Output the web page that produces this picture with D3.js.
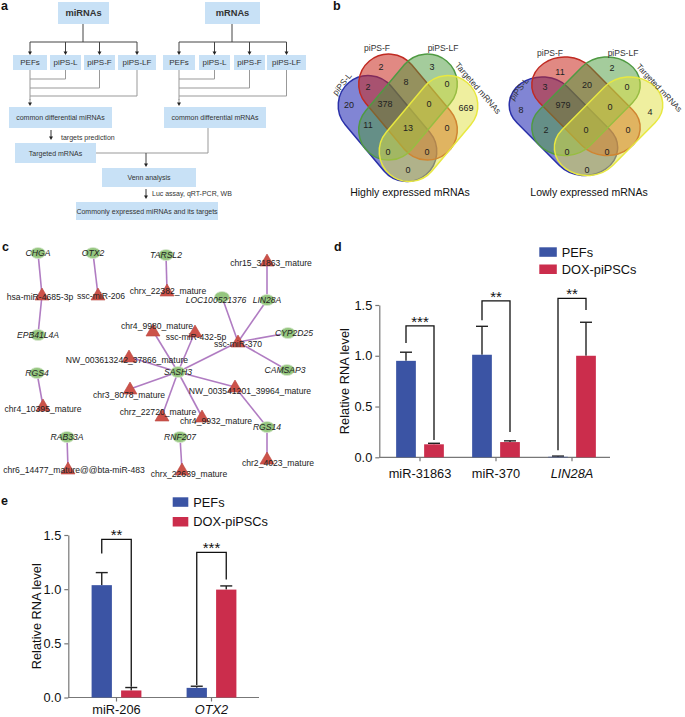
<!DOCTYPE html>
<html><head><meta charset="utf-8">
<script src="https://cdn.jsdelivr.net/npm/d3@7"></script>
<style>body{margin:0;background:#fff}svg{display:block}text{font-family:"Liberation Sans",Arial,sans-serif}</style>
</head><body><svg id="c" width="685" height="717"></svg>
<script>
// ================= DATA =================
// panel a
const topNodes = ["miRNAs", "mRNAs"];
const samples = ["PEFs", "piPS-L", "piPS-F", "piPS-LF"];
const stepLabels = ["common differential miRNAs", "common differential mRNAs", "Targeted mRNAs", "Venn analysis", "Commonly expressed miRNAs and its targets"];
const stepNotes = ["targets prediction", "Luc assay, qRT-PCR, WB"];
// panel b
const vennSets = ["piPS-L", "piPS-F", "piPS-LF", "Targeted mRNAs"];
const vennRegions = ["F","X","LF","FX","XT","L","LFX","FXT","T","LX","LFXT","FT","LXT","LFT","LT"];
const highCounts = [2, 3, 2, 8, 0, 20, 378, 0, 669, 11, 13, 0, 0, 0, 0];
const lowCounts  = [11, 2, 3, 20, 0, 8, 979, 0, 4, 2, 0, 0, 0, 0, 0];
const vennTitles = ["Highly expressed mRNAs", "Lowly expressed mRNAs"];
// panel c
const genes = ["CHGA","EPB41L4A","OTX2","TARSL2","LIN28A","LOC100521376","CYP2D25","CAMSAP3","SASH3","RGS14","RNF207","RGS4","RAB33A"];
const mirnas = ["hsa-miR-4685-3p","ssc-miR-206","chrx_22382_mature","chr15_31863_mature","ssc-miR-370","chr4_9980_mature","ssc-miR-432-5p","NW_003613242_37866_mature","chr3_8078_mature","chrz_22720_mature","chr4_9932_mature","NW_003541201_39964_mature","chr2_4023_mature","chrx_22639_mature","chr4_10395_mature","chr6_14477_mature@@bta-miR-483"];
const edges = [
  ["hsa-miR-4685-3p","CHGA"],["hsa-miR-4685-3p","EPB41L4A"],["ssc-miR-206","OTX2"],
  ["chrx_22382_mature","TARSL2"],["chr15_31863_mature","LIN28A"],["ssc-miR-370","LIN28A"],
  ["ssc-miR-370","LOC100521376"],["ssc-miR-370","CYP2D25"],["ssc-miR-370","CAMSAP3"],
  ["ssc-miR-370","SASH3"],["chr4_9980_mature","SASH3"],["ssc-miR-432-5p","SASH3"],
  ["NW_003613242_37866_mature","SASH3"],["chr3_8078_mature","SASH3"],["chrz_22720_mature","SASH3"],
  ["chr4_9932_mature","SASH3"],["NW_003541201_39964_mature","SASH3"],["NW_003541201_39964_mature","RGS14"],
  ["chr2_4023_mature","RGS14"],["chrx_22639_mature","RNF207"],["chr4_10395_mature","RGS4"],
  ["chr6_14477_mature@@bta-miR-483","RAB33A"]
];
// panels d, e
const seriesNames = ["PEFs", "DOX-piPSCs"];
const dGroups = ["miR-31863", "miR-370", "LIN28A"];
const dItalic = [false, false, true];
const dPEFs = [0.95, 1.01, 0.005];
const dPEFsErr = [0.085, 0.28, 0.007];
const dDOX = [0.128, 0.15, 1.00];
const dDOXErr = [0.01, 0.012, 0.33];
const dSig = ["***", "**", "**"];
const dBrackets = [[1.125, 1.295, 0.17], [1.35, 1.54, 0.25], [0.07, 1.565, 1.45]];
const eGroups = ["miR-206", "OTX2"];
const eItalic = [false, true];
const ePEFs = [1.037, 0.089];
const ePEFsErr = [0.116, 0.015];
const eDOX = [0.065, 0.996];
const eDOXErr = [0.027, 0.034];
const eSig = ["**", "***"];
const eBrackets = [[1.33, 1.46, 0.10], [0.115, 1.34, 1.09]];
const yTicks = [0, 0.5, 1.0, 1.5];

// ================= DRAW =================
const svg = d3.select("#c");

function panelLabel(t, x, y) {
  svg.append("text").attr("x", x).attr("y", y).attr("font-size", 12.5).attr("font-weight", "bold").attr("fill", "#111").text(t);
}
panelLabel("a", 1, 10); panelLabel("b", 333, 10); panelLabel("c", 2, 251); panelLabel("d", 334, 251); panelLabel("e", 1, 505);

// ---------- panel a ----------
const gA = svg.append("g");
const boxFill = "#c8e1f6";
function box(x, y, w, h, label, size, bold) {
  gA.append("rect").attr("x", x).attr("y", y).attr("width", w).attr("height", h).attr("fill", boxFill);
  gA.append("text").attr("x", x + w / 2).attr("y", y + h / 2).attr("text-anchor", "middle")
    .attr("dominant-baseline", "central").attr("font-size", size).attr("font-weight", bold ? "bold" : "normal")
    .attr("fill", "#333").text(label);
}
function line(x1, y1, x2, y2, col) {
  gA.append("line").attr("x1", x1).attr("y1", y1).attr("x2", x2).attr("y2", y2).attr("stroke", col).attr("stroke-width", 1);
}
function arrow(x, y1, y2, col) {
  line(x, y1, x, y2 - 2.5, col);
  gA.append("path").attr("d", `M${x - 2},${y2 - 3.5}L${x + 2},${y2 - 3.5}L${x},${y2}Z`).attr("fill", "#222");
}
const sideLayout = [
  { top: [58, 2, 51, 22], stem: 83, row: [[13, 34], [50, 31], [84, 31], [118, 38]], common: [9, 107, 103, 21] },
  { top: [205, 2, 55, 22], stem: 232, row: [[163, 32], [199, 31], [234, 31], [267, 39]], common: [164, 107, 102, 21] }
];
const joinY = [null, 79, 88, 96];
sideLayout.forEach((s, si) => {
  const centers = s.row.map(r => r[0] + r[1] / 2);
  line(s.stem, 24, s.stem, 42, "#444");
  line(centers[0], 42, centers[3], 42, "#444");
  centers.forEach(cx => arrow(cx, 42, 55, "#444"));
  s.row.forEach((r, i) => box(r[0], 55, r[1], 15, samples[i], 8, false));
  centers.forEach((cx, i) => { if (i > 0) { line(cx, 70, cx, joinY[i], "#999"); line(centers[0], joinY[i], cx, joinY[i], "#999"); } });
  line(centers[0], 70, centers[0], 100, "#999");
  arrow(centers[0], 99, 106, "#999");
  box(s.top[0], s.top[1], s.top[2], s.top[3], topNodes[si], 9.3, true);
  box(s.common[0], s.common[1], s.common[2], s.common[3], stepLabels[si], 7, false);
});
arrow(51, 130, 140, "#333");
gA.append("text").attr("x", 61).attr("y", 139.5).attr("font-size", 7).attr("fill", "#333").text(stepNotes[0]);
box(15, 143, 81, 20, stepLabels[2], 7, false);
line(96, 153, 208, 153, "#999");
line(208, 128, 208, 153, "#999");
arrow(146, 153, 167, "#444");
box(102, 168, 94, 19, stepLabels[3], 7, false);
arrow(146, 189, 199, "#333");
gA.append("text").attr("x", 152).attr("y", 196).attr("font-size", 7).attr("fill", "#333").text(stepNotes[1]);
box(76, 202, 142, 18, stepLabels[4], 7, false);

// ---------- panel b ----------
const vennShapes = [
  { dx: -20.5, dy: 11, rot: 50, fill: "#1a20b0", stroke: "#2a30a8", op: 0.55 },
  { dx: 0, dy: -10.5, rot: 50, fill: "#c8281e", stroke: "#c02a22", op: 0.55 },
  { dx: 0, dy: -10.5, rot: -50, fill: "#4a9a3a", stroke: "#4f9a42", op: 0.5 },
  { dx: 20.5, dy: 11, rot: -50, fill: "#e0e040", stroke: "#e8e840", op: 0.5 }
];
const regionPos = [
  { F: [-27, -50.5], X: [24, -50.5], LF: [-40, -30.5], FX: [-2, -35.5], XT: [39, -33.5], L: [-59, -12.5], LFX: [-23, -13.5], FXT: [21, -13.5], T: [58, -9.5], LX: [-40, 7.5], LFXT: [0, 10.5], FT: [39, 10.5], LXT: [-20, 34.5], LFT: [19, 34.5], LT: [0, 52.5] },
  { F: [-27, -43.5], X: [25, -47.5], LF: [-42, -28.5], FX: [0, -30.5], XT: [40, -28.5], L: [-66, -5.5], LFX: [-24, -10.5], FXT: [23, -8.5], T: [63, -3.5], LX: [-41, 14.5], LFXT: [-1, 14.5], FT: [41, 14.5], LXT: [-20, 36.5], LFT: [20, 36.5], LT: [0, 54.5] }
];
const vennLayout = [
  { cx: 408, cy: 117.5, sx: 1, sy: 1, labelC: 117.5, labels: [[342, 84, -52], [377, 48, 0], [443, 48, 0], [478, 88, 49]], title: [410, 196], tfs: 8.5 },
  { cx: 586, cy: 116, sx: 1.1, sy: 0.93, labelC: 115.5, labels: [[519, 89, -52], [550, 53, 0], [623, 53, 0], [659, 88, 47]], title: [589, 196], tfs: 8.2 }
];
[highCounts, lowCounts].forEach((counts, vi) => {
  const L = vennLayout[vi];
  const g = svg.append("g");
  const sh = g.append("g").attr("transform", `translate(${L.cx},${L.cy}) scale(${L.sx},${L.sy})`);
  vennShapes.forEach(s => {
    sh.append("rect").attr("x", -60).attr("y", -30).attr("width", 120).attr("height", 60).attr("rx", 30)
      .attr("transform", `translate(${s.dx},${s.dy}) rotate(${s.rot})`)
      .attr("fill", s.fill).attr("fill-opacity", s.op).attr("stroke", s.stroke).attr("stroke-width", 1.5)
      .attr("vector-effect", "non-scaling-stroke");
  });
  vennRegions.forEach((r, i) => {
    const p = regionPos[vi][r];
    g.append("text").attr("x", (vi === 0 ? 408 : 587) + p[0]).attr("y", L.labelC + p[1]).attr("text-anchor", "middle")
      .attr("dominant-baseline", "central").attr("font-size", 9).attr("fill", "#222").text(counts[i]);
  });
  vennSets.forEach((s, i) => {
    const lp = L.labels[i];
    g.append("text").attr("transform", `translate(${lp[0]},${lp[1]}) rotate(${lp[2]})`).attr("text-anchor", "middle")
      .attr("dominant-baseline", "central").attr("font-size", i === 3 ? L.tfs : 8.5).attr("fill", "#333").text(s);
  });
  g.append("text").attr("x", L.title[0]).attr("y", L.title[1]).attr("text-anchor", "middle").attr("font-size", 10.5)
    .attr("fill", "#111").text(vennTitles[vi]);
});

// ---------- panel c ----------
const netLayout = {
  "CHGA": [38, 253], "hsa-miR-4685-3p": [42, 295, 40, 297], "EPB41L4A": [38, 335], "OTX2": [93, 253],
  "ssc-miR-206": [98, 295, 101, 296], "TARSL2": [166, 255], "chrx_22382_mature": [167, 291, 168, 291],
  "chr15_31863_mature": [267, 261, 271, 263], "LIN28A": [267, 300], "LOC100521376": [222, 297, 216, 300],
  "ssc-miR-370": [238, 342, 238, 344], "CYP2D25": [288, 333, 294, 333], "CAMSAP3": [287, 370, 285, 370],
  "SASH3": [178, 372], "chr4_9980_mature": [153, 331, 157, 326], "ssc-miR-432-5p": [195, 332, 196, 337],
  "NW_003613242_37866_mature": [129, 357, 127, 360], "chr3_8078_mature": [130, 389, 129, 395],
  "chrz_22720_mature": [162, 416, 158, 412], "chr4_9932_mature": [202, 417, 216, 421],
  "NW_003541201_39964_mature": [235, 387, 250, 391], "RGS14": [267, 427], "chr2_4023_mature": [267, 459, 278, 463],
  "RNF207": [180, 437], "chrx_22639_mature": [182, 470, 189, 474], "RGS4": [37, 373],
  "chr4_10395_mature": [43, 406, 43, 409], "RAB33A": [67, 437], "chr6_14477_mature@@bta-miR-483": [68, 469, 74, 470]
};
const gC = svg.append("g");
edges.forEach(([a, b]) => {
  const p = netLayout[a], q = netLayout[b];
  gC.append("line").attr("x1", p[0]).attr("y1", p[1]).attr("x2", q[0]).attr("y2", q[1]).attr("stroke", "#b07cc2").attr("stroke-width", 1.6);
});
mirnas.forEach(m => {
  const p = netLayout[m];
  gC.append("path").attr("d", `M${p[0]},${p[1] - 7}L${p[0] + 7},${p[1] + 5}L${p[0] - 7},${p[1] + 5}Z`)
    .attr("fill", "#cc5249").attr("stroke", "#b8463f").attr("stroke-width", 0.6);
});
genes.forEach(gn => {
  const p = netLayout[gn];
  gC.append("ellipse").attr("cx", p[0]).attr("cy", p[1]).attr("rx", 7.5).attr("ry", 5.5)
    .attr("fill", "#95c67f").attr("stroke", "#dbe9d3").attr("stroke-width", 0.8);
});
mirnas.concat(genes).forEach(n => {
  const p = netLayout[n];
  gC.append("text").attr("x", p[2] !== undefined ? p[2] : p[0]).attr("y", p[3] !== undefined ? p[3] : p[1])
    .attr("text-anchor", "middle").attr("dominant-baseline", "central").attr("font-size", 8.6)
    .attr("font-style", genes.includes(n) ? "italic" : "normal").attr("fill", "#222").text(n);
});

// ---------- panels d, e ----------
const colors = ["#3b54a4", "#cb2d4c"];
function barPanel(cfg) {
  const g = svg.append("g");
  const y = d3.scaleLinear().domain([0, 1.5]).range(cfg.yRange);
  const x0 = d3.scaleBand().domain(cfg.groups).range(cfg.xRange);
  const x1 = d3.scaleBand().domain(seriesNames).range([0, x0.bandwidth()]).paddingInner(cfg.pi).paddingOuter(cfg.po);
  const vals = [cfg.pefs, cfg.dox], errs = [cfg.pefsErr, cfg.doxErr];
  const ya = g.append("g").attr("transform", `translate(${cfg.axisX},0)`)
    .call(d3.axisLeft(y).tickValues(yTicks).tickFormat(d3.format(".1f")).tickSize(4).tickPadding(3).tickSizeOuter(0));
  ya.select(".domain").attr("stroke", "#777").attr("stroke-width", 1.2);
  ya.selectAll(".tick line").attr("stroke", "#777").attr("stroke-width", 1.2);
  ya.selectAll(".tick text").attr("font-size", 12.8).attr("fill", "#111").attr("font-family", '"Liberation Sans",Arial,sans-serif');
  g.append("line").attr("x1", cfg.axisX).attr("x2", cfg.xRange[1]).attr("y1", y(0)).attr("y2", y(0)).attr("stroke", "#777").attr("stroke-width", 1.2);
  cfg.groups.forEach((grp, gi) => {
    const cx = x0(grp) + x0.bandwidth() / 2;
    g.append("line").attr("x1", cx).attr("x2", cx).attr("y1", y(0)).attr("y2", y(0) + 4).attr("stroke", "#777").attr("stroke-width", 1.2);
    g.append("text").attr("x", cx).attr("y", y(0) + cfg.catDy).attr("text-anchor", "middle").attr("font-size", 12.8)
      .attr("font-style", cfg.italic[gi] ? "italic" : "normal").attr("fill", "#111").text(grp);
    seriesNames.forEach((s, si) => {
      const bx = x0(grp) + x1(s), bw = x1.bandwidth(), bc = bx + bw / 2;
      const v = vals[si][gi], e = errs[si][gi];
      g.append("line").attr("x1", bc).attr("x2", bc).attr("y1", y(v)).attr("y2", y(v + e)).attr("stroke", "#222").attr("stroke-width", 1.4);
      g.append("line").attr("x1", bc - 6).attr("x2", bc + 6).attr("y1", y(v + e)).attr("y2", y(v + e)).attr("stroke", "#222").attr("stroke-width", 1.4);
      g.append("rect").attr("x", bx).attr("y", y(v)).attr("width", bw).attr("height", y(0) - y(v)).attr("fill", colors[si]);
    });
    const lx = x0(grp) + x1(seriesNames[0]) + x1.bandwidth() / 2;
    const rx = x0(grp) + x1(seriesNames[1]) + x1.bandwidth() / 2;
    const b = cfg.brackets[gi];
    g.append("path").attr("d", `M${lx},${y(b[0])}V${y(b[1])}H${rx}V${y(b[2])}`).attr("fill", "none").attr("stroke", "#111").attr("stroke-width", 1.3);
    g.append("text").attr("x", cx).attr("y", y(b[1]) + 1).attr("text-anchor", "middle").attr("font-size", 15).attr("fill", "#111").text(cfg.sig[gi]);
  });
  g.append("text").attr("transform", `translate(${cfg.titleX},${(cfg.yRange[0] + cfg.yRange[1]) / 2}) rotate(-90)`)
    .attr("text-anchor", "middle").attr("font-size", 12.8).attr("fill", "#111").text("Relative RNA level");
  seriesNames.forEach((s, si) => {
    const ly = cfg.legY[si];
    g.append("rect").attr("x", cfg.legX).attr("y", ly).attr("width", cfg.legW).attr("height", 9.5).attr("fill", colors[si]);
    g.append("text").attr("x", cfg.legX + cfg.legW + 5).attr("y", ly + 4.75).attr("dominant-baseline", "central")
      .attr("font-size", 12.8).attr("fill", "#111").text(s);
  });
}
barPanel({ groups: dGroups, italic: dItalic, pefs: dPEFs, pefsErr: dPEFsErr, dox: dDOX, doxErr: dDOXErr, sig: dSig, brackets: dBrackets,
  yRange: [457.3, 305], xRange: [382, 610], axisX: 379.3, pi: 0.296, po: 0.505, titleX: 349, legX: 539.3, legY: [247.3, 264.5], legW: 17.5, catDy: 20.5 });
barPanel({ groups: eGroups, italic: eItalic, pefs: ePEFs, pefsErr: ePEFsErr, dox: eDOX, doxErr: eDOXErr, sig: eSig, brackets: eBrackets,
  yRange: [697.5, 535], xRange: [69, 259], axisX: 68.3, pi: 0.312, po: 0.766, titleX: 41, legX: 172.7, legY: [497.3, 517], legW: 15.6, catDy: 16 });
</script></body></html>
